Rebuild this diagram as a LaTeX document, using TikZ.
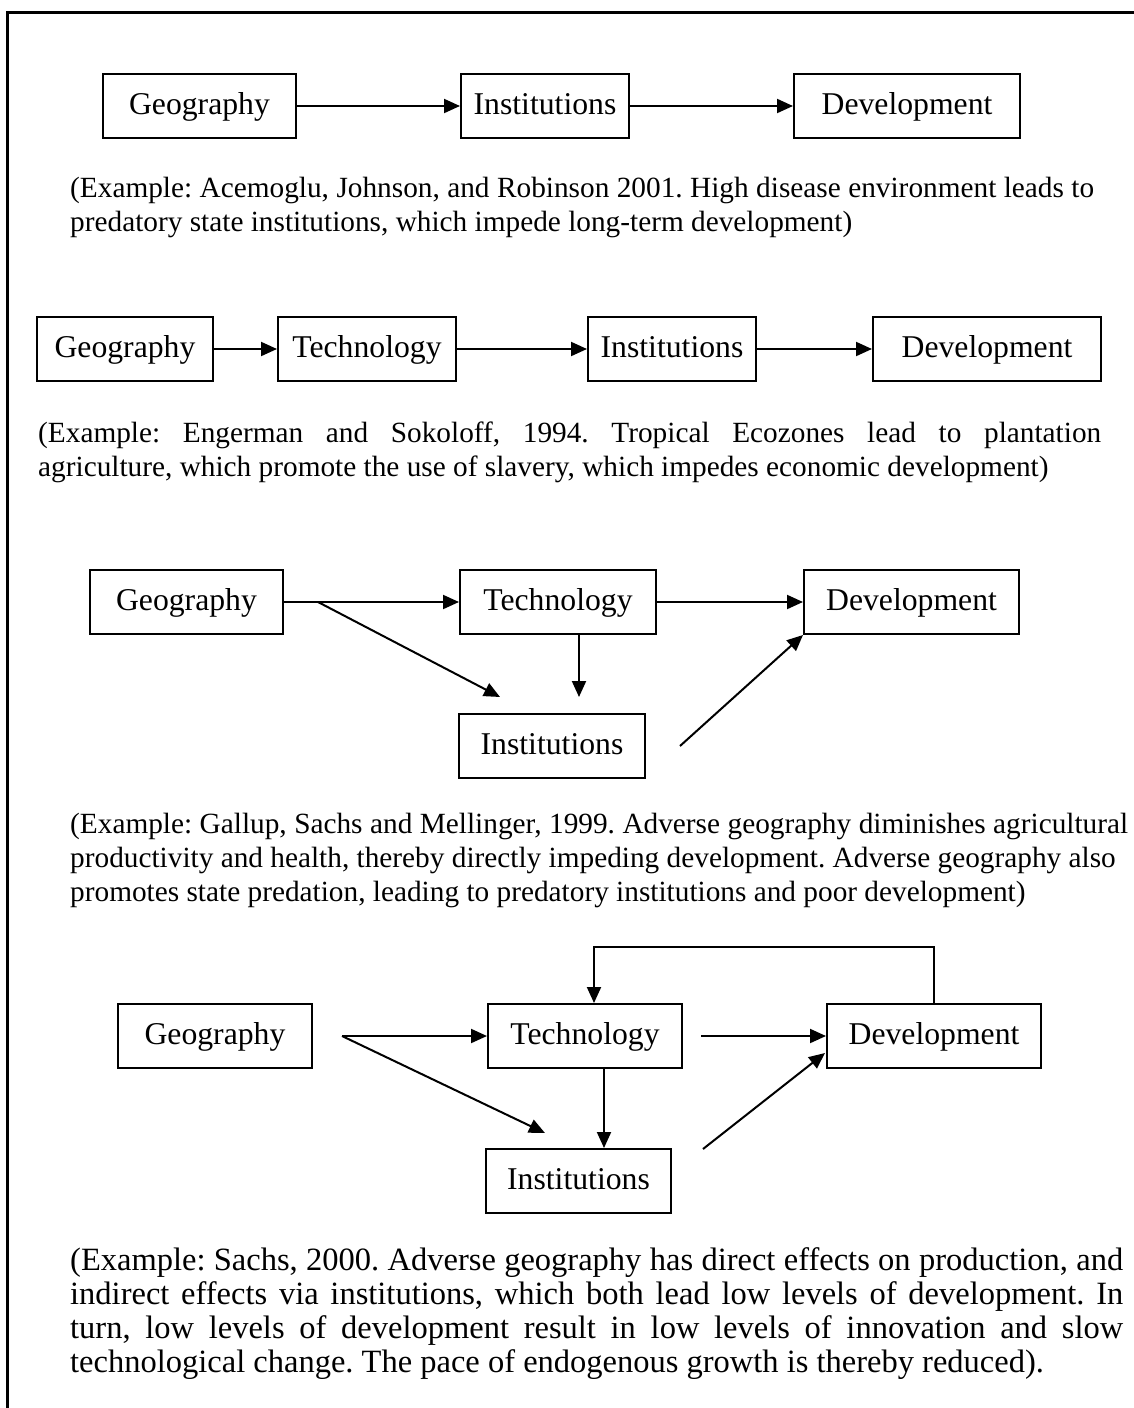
\documentclass[tikz,border=0pt]{standalone}
\usepackage{fontspec}
\setmainfont{Liberation Serif}
\usetikzlibrary{arrows.meta}
\frenchspacing
\begin{document}
\begin{tikzpicture}[x=1pt,y=-1pt,
  box/.style={draw, line width=2pt, minimum height=64pt, inner sep=0pt, text height=22pt, text depth=5pt, font=\fontsize{31.7}{34}\selectfont},
  arr/.style={line width=2pt, -{Triangle[length=16pt,width=14pt]}},
  txt/.style={anchor=base west, inner sep=0pt, font=\fontsize{29.3}{34}\selectfont},
  txtb/.style={anchor=base west, inner sep=0pt, font=\fontsize{32.5}{34}\selectfont}]
\useasboundingbox (0,0) rectangle (1134,1408);
\draw[line width=3pt] (7.5,1408) -- (7.5,12.5) -- (1134,12.5);

% Row 1
\node[box, minimum width=193pt] (g1) at (199.5,106) {Geography};
\node[box, minimum width=168pt] (i1) at (545,106) {Institutions};
\node[box, minimum width=226pt] (d1) at (907,106) {Development};
\draw[arr] (g1) -- (i1);
\draw[arr] (i1) -- (d1);
\node[txt] (t1a) at (70,197) {\makebox[1024pt][s]{(Example: Acemoglu, Johnson, and Robinson 2001. High disease environment leads to}};
\node[txt] (t1b) at (70,231) {predatory state institutions, which impede long-term development)};

% Row 2
\node[box, minimum width=176pt] (g2) at (125,349) {Geography};
\node[box, minimum width=178pt] (t2) at (367,349) {Technology};
\node[box, minimum width=168pt] (i2) at (672,349) {Institutions};
\node[box, minimum width=228pt] (d2) at (987,349) {Development};
\draw[arr] (g2) -- (t2);
\draw[arr] (t2) -- (i2);
\draw[arr] (i2) -- (d2);
\node[txt] (t2a) at (38,442) {\makebox[1063pt][s]{(Example: Engerman and Sokoloff, 1994. Tropical Ecozones lead to plantation}};
\node[txt] (t2b) at (38,476) {agriculture, which promote the use of slavery, which impedes economic development)};

% Row 3
\node[box, minimum width=193pt] (g3) at (186.5,602) {Geography};
\node[box, minimum width=196pt] (t3) at (558,602) {Technology};
\node[box, minimum width=215pt] (d3) at (911.5,602) {Development};
\node[box, minimum width=186pt] (i3) at (552,746) {Institutions};
\coordinate (s3) at (318,602);
\coordinate (e3) at (500,697);
\coordinate (e3b) at (579,697);
\coordinate (s3c) at (680,746);
\draw[arr] (g3) -- (t3);
\draw[arr] (s3) -- (e3);
\draw[arr] (t3.south -| e3b) -- (e3b);
\draw[arr] (t3) -- (d3);
\draw[arr] (s3c) -- (d3.south west);
\node[txt] (t3a) at (70,833) {\makebox[1058pt][s]{(Example: Gallup, Sachs and Mellinger, 1999. Adverse geography diminishes agricultural}};
\node[txt] (t3b) at (70,867) {productivity and health, thereby directly impeding development. Adverse geography also};
\node[txt] (t3c) at (70,901) {promotes state predation, leading to predatory institutions and poor development)};

% Row 4
\node[box, minimum width=194pt] (g4) at (215,1036) {Geography};
\node[box, minimum width=194pt] (t4) at (585,1036) {Technology};
\node[box, minimum width=214pt] (d4) at (934,1036) {Development};
\node[box, minimum width=185pt] (i4) at (578.5,1181) {Institutions};
\coordinate (s4) at (342,1036);
\coordinate (e4) at (545,1133);
\coordinate (x4) at (604,1100);
\coordinate (s4b) at (701,1036);
\coordinate (s4c) at (703,1149);
\coordinate (e4c) at (825,1053);
\coordinate (fb) at (594,947);
\draw[arr] (s4) -- (t4.west);
\draw[arr] (s4) -- (e4);
\draw[arr] (t4.south -| x4) -- (i4.north -| x4);
\draw[arr] (s4b) -- (d4.west);
\draw[arr] (s4c) -- (e4c);
\draw[arr] (d4.north) -- (d4.north |- fb) -- (fb) -- (t4.north -| fb);
\node[txtb] (t4a) at (70,1270) {\makebox[1053pt][s]{(Example: Sachs, 2000. Adverse geography has direct effects on production, and}};
\node[txtb] (t4b) at (70,1304) {\makebox[1053pt][s]{indirect effects via institutions, which both lead low levels of development. In}};
\node[txtb] (t4c) at (70,1338) {\makebox[1053pt][s]{turn, low levels of development result in low levels of innovation and slow}};
\node[txtb] (t4d) at (70,1372) {technological change. The pace of endogenous growth is thereby reduced).};
\end{tikzpicture}
\end{document}
